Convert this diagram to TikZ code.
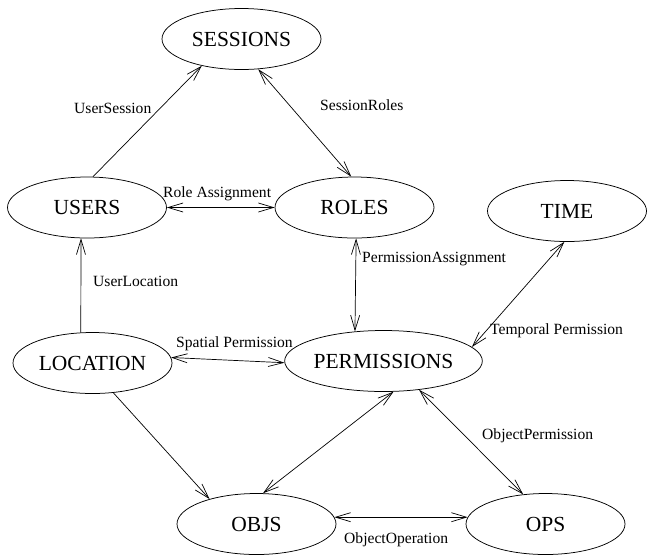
\documentclass[tikz,border=0pt]{standalone}
\usepackage{fontspec}
\setmainfont{Liberation Serif}
\usetikzlibrary{arrows.meta,shapes.geometric}
\begin{document}
\begin{tikzpicture}[x=1pt,y=-1pt,
  ent/.style={draw,ellipse,line width=0.75pt,minimum width=159pt,minimum height=61pt,inner sep=0pt,font=\fontsize{21.5}{24}\selectfont},
  lab/.style={inner sep=0pt,anchor=base west,font=\fontsize{15.6}{18}\selectfont},
  conn/.style={line width=0.7pt},
  tip/.tip={Straight Barb[length=15pt,width=9pt,line width=0.7pt]},
  one/.style={conn,-tip},
  two/.style={conn,tip-tip}]
\useasboundingbox (0,0) rectangle (647,558);
\node[ent] (sessions) at (241.5,39) {SESSIONS};
\node[ent] (users) at (87,207.5) {USERS};
\node[ent] (roles) at (354.5,207.5) {ROLES};
\node[ent] (time) at (567,211) {TIME};
\node[ent] (location) at (92.5,363) {LOCATION};
\node[ent] (permissions) at (383.5,361) {PERMISSIONS};
\node[ent] (objs) at (256.5,524) {OBJS};
\node[ent] (ops) at (545.5,524) {OPS};

\draw[one] (users.79) -- (sessions.214);
\draw[two] (sessions.299) -- (roles.96);
\draw[two] (users.east) -- (roles.west);
\draw[two] (roles.273) -- (permissions.134);
\draw[two] (time.265) -- (permissions.9);
\draw[one] (location.111) -- (users.259);
\draw[two] (location.4) -- (permissions.181);
\draw[one] (location.305) -- (objs.152);
\draw[two] (permissions.288) -- (objs.78);
\draw[two] (permissions.321) -- (ops.127);
\draw[two] (objs.5) -- (ops.175);

\node[lab] (l1) at (74,113) {UserSession};
\node[lab] (l2) at (320,110) {SessionRoles};
\node[lab] (l3) at (163,197) {Role Assignment};
\node[lab] (l4) at (362,262) {PermissionAssignment};
\node[lab] (l5) at (93,286) {UserLocation};
\node[lab] (l6) at (176,347) {Spatial Permission};
\node[lab] (l7) at (490,334) {Temporal Permission};
\node[lab] (l8) at (482,439) {ObjectPermission};
\node[lab] (l9) at (344,543) {ObjectOperation};
\end{tikzpicture}
\end{document}
